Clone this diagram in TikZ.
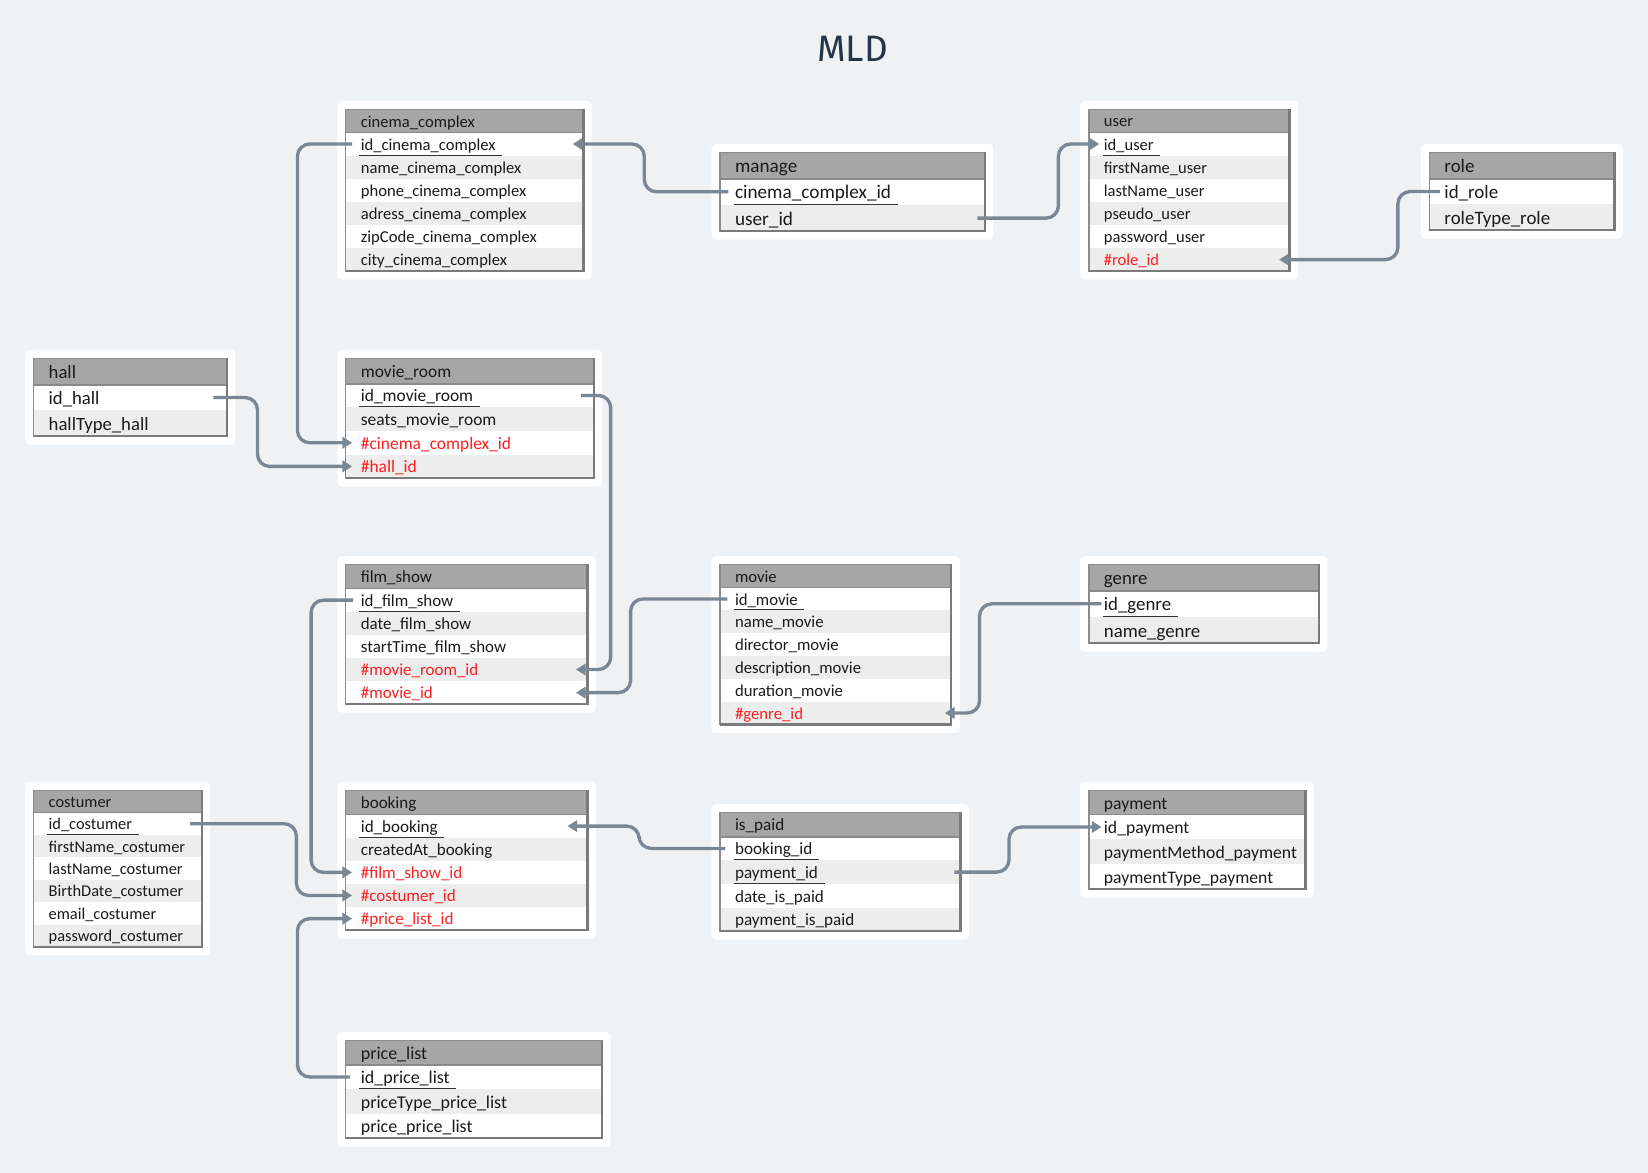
\documentclass[tikz,border=0pt]{standalone}
\usepackage{fontspec}
\setmainfont{Carlito}
\newfontfamily\titlefont{Fira Sans}
\usetikzlibrary{calc,arrows.meta}
\definecolor{bgc}{HTML}{EFF2F5}
\definecolor{hdrc}{HTML}{A6A6A6}
\definecolor{hdrlinec}{HTML}{8A8A8A}
\definecolor{rowc}{HTML}{EDEDED}
\definecolor{bordc}{HTML}{8C8C8C}
\definecolor{shadec}{HTML}{7A7A7A}
\definecolor{txtc}{HTML}{1A1A1A}
\definecolor{fkc}{HTML}{FF1E1E}
\definecolor{ulc}{HTML}{333333}
\definecolor{connc}{HTML}{7A8795}
\definecolor{titlec}{HTML}{263646}
\tikzset{
  card/.style={fill=white, rounded corners=2.4pt},
  rowtxt/.style={anchor=base west, inner sep=0pt, font=\tabfont},
  uline/.style={draw=ulc, line width=0.7pt},
  tborder/.style={draw=bordc, line width=0.8pt},
  tshade/.style={draw=shadec, line width=1.4pt},
  hdrline/.style={draw=hdrlinec, line width=1pt},
  conn/.style={draw=connc, line width=1.9pt, rounded corners=7pt, -{Triangle[length=5.5pt,width=6.5pt]}},
}
% #1 prefix, #2 x, #3 y, #4 width, #5 header h, #6 row h, #7 font size (units), #8 title, #9 rows
\newcommand\dbtab[9]{%
  \begin{scope}
  \pgfmathsetmacro\fspt{#7*0.6}%
  \def\tabfont{\fontsize{\fspt pt}{\fspt pt}\selectfont}%
  \foreach \rowitem [count=\rowcount] in {#9} {\global\let\nrows\rowcount}%
  \pgfmathsetmacro\ybot{#3+#5+\nrows*#6}%
  \fill[card] (#2-8,#3-8) rectangle (#2+#4+8,\ybot+8);
  \fill[hdrc] (#2,#3) rectangle (#2+#4,#3+#5);
  \draw[hdrline] (#2,#3+#5) -- (#2+#4,#3+#5);
  \node[rowtxt, text=txtc] (#1) at (#2+14,#3+#5/2+0.37*#7) {#8};
  \foreach \rowkey/\rowtext/\rowkind [count=\ri from 0] in {#9} {
    \pgfmathsetmacro\yt{#3+#5+\ri*#6}
    \pgfmathsetmacro\ym{\yt+#6/2}
    \pgfmathsetmacro\dd{#6/2-0.37*#7-0.3}
    \pgfmathtruncatemacro\oddrow{mod(\ri,2)}
    \ifnum\oddrow=1 \fill[rowc] (#2,\yt) rectangle (#2+#4,\yt+#6); \fi
    \ifnum\rowkind=2 \def\rowcol{fkc}\else\def\rowcol{txtc}\fi
    \node[rowtxt, text=\rowcol] (#1-\rowkey) at (#2+14,\ym+0.37*#7) {\rowtext};
    \ifnum\rowkind=1 \draw[uline] ($(#1-\rowkey.base west)+(-1,\dd)$) -- ($(#1-\rowkey.base east)+(6,\dd)$); \fi
    \coordinate (#1-\rowkey-l) at (#2,\ym);
    \coordinate (#1-\rowkey-r) at (#2+#4,\ym);
  }
  \draw[tborder] (#2,#3) rectangle (#2+#4,\ybot);
  \draw[tshade] (#2+#4,#3) -- (#2+#4,\ybot) -- (#2,\ybot);
  \end{scope}}
\begin{document}
\begin{tikzpicture}[x=0.6pt,y=-0.6pt]
\fill[bgc] (0,0) rectangle (1568,1116);
\useasboundingbox (0,0) rectangle (1568,1116);
\node[font=\titlefont\fontsize{21pt}{21pt}\selectfont, text=titlec] (title) at (811,46) {MLD};

\dbtab{cc}{329}{104}{226}{22}{22}{15.8}{cinema\_complex}{id/id\_cinema\_complex/1, name/name\_cinema\_complex/0, phone/phone\_cinema\_complex/0, adr/adress\_cinema\_complex/0, zip/zipCode\_cinema\_complex/0, city/city\_cinema\_complex/0}
\dbtab{mg}{685}{145}{252}{25}{25}{18.3}{manage}{cc/cinema\_complex\_id/1, us/user\_id/1}
\dbtab{us}{1036}{104}{191}{22}{22}{15.7}{user}{id/id\_user/1, fn/firstName\_user/0, ln/lastName\_user/0, ps/pseudo\_user/0, pw/password\_user/0, role/\#role\_id/2}
\dbtab{ro}{1360}{145}{176}{25}{24.5}{18}{role}{id/id\_role/1, type/roleType\_role/0}
\dbtab{ha}{32}{341}{184}{25}{24.5}{17.8}{hall}{id/id\_hall/1, type/hallType\_hall/0}
\dbtab{mr}{329}{341}{236}{24}{22.5}{16.6}{movie\_room}{id/id\_movie\_room/1, seats/seats\_movie\_room/0, cc/\#cinema\_complex\_id/2, hall/\#hall\_id/2}
\dbtab{fs}{329}{537}{230}{23}{22}{16.1}{film\_show}{id/id\_film\_show/1, date/date\_film\_show/0, start/startTime\_film\_show/0, mr/\#movie\_room\_id/2, mv/\#movie\_id/2}
\dbtab{mv}{685}{537}{220}{22}{21.7}{15.9}{movie}{id/id\_movie/1, name/name\_movie/0, dir/director\_movie/0, desc/description\_movie/0, dur/duration\_movie/0, genre/\#genre\_id/2}
\dbtab{ge}{1036}{537}{219}{25}{25}{17.9}{genre}{id/id\_genre/1, name/name\_genre/0}
\dbtab{cu}{32}{752}{160}{21}{21.33}{15.6}{costumer}{id/id\_costumer/1, fn/firstName\_costumer/0, ln/lastName\_costumer/0, bd/BirthDate\_costumer/0, em/email\_costumer/0, pw/password\_costumer/0}
\dbtab{bk}{329}{752}{230}{23}{22}{16.2}{booking}{id/id\_booking/1, cr/createdAt\_booking/0, fs/\#film\_show\_id/2, cu/\#costumer\_id/2, pl/\#price\_list\_id/2}
\dbtab{ip}{685}{773}{229}{23}{22.5}{16.3}{is\_paid}{bk/booking\_id/1, pay/payment\_id/1, date/date\_is\_paid/0, pip/payment\_is\_paid/0}
\dbtab{pa}{1036}{752}{206}{23}{23.67}{16.8}{payment}{id/id\_payment/1, meth/paymentMethod\_payment/0, type/paymentType\_payment/0}
\dbtab{pl}{329}{990}{244}{23}{23.3}{17.1}{price\_list}{id/id\_price\_list/1, type/priceType\_price\_list/0, price/price\_price\_list/0}

% connectors
\draw[conn] ($(mg-cc-l)+(8,0)$) -- ++(-80,0) |- ($(cc-id-r)+(-10,0)$);
\draw[conn] ($(mg-us-r)+(-7,0)$) -- ++(77,0) |- ($(us-id-l)+(10,0)$);
\draw[conn] ($(ro-id-l)+(10,0)$) -- ++(-40,0) |- ($(us-role-r)+(-10,0)$);
\draw[conn] ($(cc-id-l)+(6,0)$) -- ++(-52,0) |- ($(mr-cc-l)+(6,0)$);
\draw[conn] ($(ha-id-r)+(-13,0)$) -- ++(42,0) |- ($(mr-hall-l)+(6,0)$);
\draw[conn] ($(mr-id-r)+(-12,0)$) -- ++(28,0) |- ($(fs-mr-r)+(-11,0)$);
\draw[conn] ($(mv-id-l)+(7,0)$) -- ++(-92,0) |- ($(fs-mv-r)+(-11,0)$);
\draw[conn] ($(ge-id-l)+(12,0)$) -- ++(-116,0) |- ($(mv-genre-r)+(-6,0)$);
\draw[conn] ($(fs-id-l)+(7,0)$) -- ++(-40,0) |- ($(bk-fs-l)+(6,0)$);
\draw[conn] ($(cu-id-r)+(-11,0)$) -- ++(101,0) |- ($(bk-cu-l)+(6,0)$);
\draw[conn] ($(pl-id-l)+(4,0)$) -- ++(-50,0) |- ($(bk-pl-l)+(6,0)$);
\draw[conn] ($(ip-bk-l)+(5,0)$) -- ++(-82,0) |- ($(bk-id-r)+(-19,0)$);
\draw[conn] ($(ip-pay-r)+(-6,0)$) -- ++(52,0) |- ($(pa-id-l)+(12,0)$);
\end{tikzpicture}
\end{document}
